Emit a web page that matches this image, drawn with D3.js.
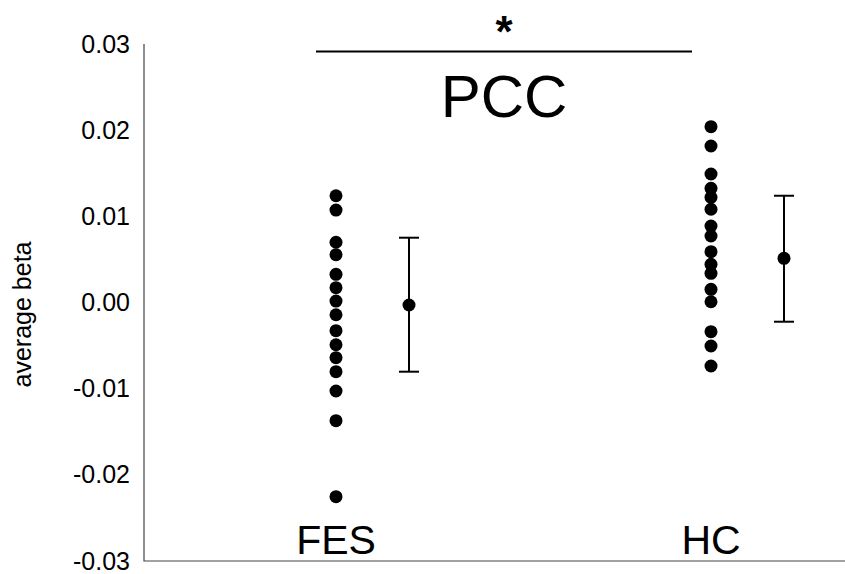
<!DOCTYPE html>
<html>
<head>
<meta charset="utf-8">
<script src="https://cdn.jsdelivr.net/npm/d3@7"></script>
<style>
    body { margin: 0; background: #fff; }
    text { font-family: "Liberation Sans", Arial, sans-serif; }
</style>
</head>
<body>
<div id="chart"></div>
<script>
// Data
const groups = ["FES", "HC"];
const fesValues = [0.01239, 0.01073, 0.00699, 0.00555, 0.00327, 0.00172, 0.00017, -0.00142,
    -0.00327, -0.0049, -0.0064, -0.00803, -0.01027, -0.01372, -0.02254];
const hcValues = [0.0204, 0.01816, 0.01491, 0.01325, 0.01221, 0.01082, 0.00888, 0.00772,
    0.0059, 0.00443, 0.00339, 0.00153, 0.00009, -0.00339, -0.00505, -0.00737];
const groupMeans = [-0.00029, 0.00513];
const errorLow = [-0.00803, -0.00223];
const errorHigh = [0.00752, 0.01239];
const yTicks = [0.03, 0.02, 0.01, 0.00, -0.01, -0.02, -0.03];

// Setup SVG
const width = 845, height = 574;
let svg = d3.select("#chart").append("svg")
    .attr("width", width)
    .attr("height", height);

// Scales
let y = d3.scaleLinear().domain([-0.03, 0.03]).range([561, 44]);
let x = d3.scalePoint().domain(groups).range([336, 711]);
const meanOffset = 73; // summary point sits right of the dots

// Axes (no tick marks, just the L-shaped frame)
let yAxis = svg.append("g")
    .attr("transform", "translate(144,0)")
    .call(d3.axisLeft(y).tickValues(yTicks).tickSize(0).tickPadding(14).tickFormat(d3.format(".2f")));
yAxis.select(".domain").remove();
yAxis.selectAll("text")
    .style("font-size", "25px")
    .style("fill", "#000")
    .text(d => d3.format(".2f")(d).replace("−", "-"));

svg.append("path")
    .attr("d", `M144,${y(0.03)} V${y(-0.03)} H${width}`)
    .attr("fill", "none")
    .attr("stroke", "#444")
    .attr("stroke-width", 1.2);

// Y axis title
svg.append("text")
    .attr("transform", `translate(31, ${y(0) + 12}) rotate(-90)`)
    .attr("text-anchor", "middle")
    .style("font-size", "25px")
    .text("average beta");

// Individual dots
const allValues = [fesValues, hcValues];
groups.forEach((g, i) => {
    svg.append("g").selectAll("circle")
        .data(allValues[i])
        .join("circle")
        .attr("cx", x(g))
        .attr("cy", d => y(d))
        .attr("r", 6.5)
        .attr("fill", "#000");
});

// Mean and error bars
groups.forEach((g, i) => {
    let cx = x(g) + meanOffset;
    svg.append("line")
        .attr("x1", cx).attr("x2", cx)
        .attr("y1", y(errorHigh[i])).attr("y2", y(errorLow[i]))
        .attr("stroke", "#000").attr("stroke-width", 2);
    [errorHigh[i], errorLow[i]].forEach(v => {
        svg.append("line")
            .attr("x1", cx - 10).attr("x2", cx + 10)
            .attr("y1", y(v)).attr("y2", y(v))
            .attr("stroke", "#000").attr("stroke-width", 2);
    });
    svg.append("circle")
        .attr("cx", cx)
        .attr("cy", y(groupMeans[i]))
        .attr("r", 6.5)
        .attr("fill", "#000");
});

// Group labels
svg.selectAll(".group-label")
    .data(groups)
    .join("text")
    .attr("class", "group-label")
    .attr("x", d => x(d))
    .attr("y", 554)
    .attr("text-anchor", "middle")
    .style("font-size", "41px")
    .text(d => d);

// Title and significance bracket
svg.append("text")
    .attr("x", 504)
    .attr("y", 117)
    .attr("text-anchor", "middle")
    .style("font-size", "60px")
    .text("PCC");

svg.append("line")
    .attr("x1", 316).attr("x2", 692)
    .attr("y1", 51.5).attr("y2", 51.5)
    .attr("stroke", "#000").attr("stroke-width", 2);

svg.append("text")
    .attr("x", 504)
    .attr("y", 47)
    .attr("text-anchor", "middle")
    .style("font-size", "44px")
    .style("font-weight", "bold")
    .text("*");
</script>
</body>
</html>
